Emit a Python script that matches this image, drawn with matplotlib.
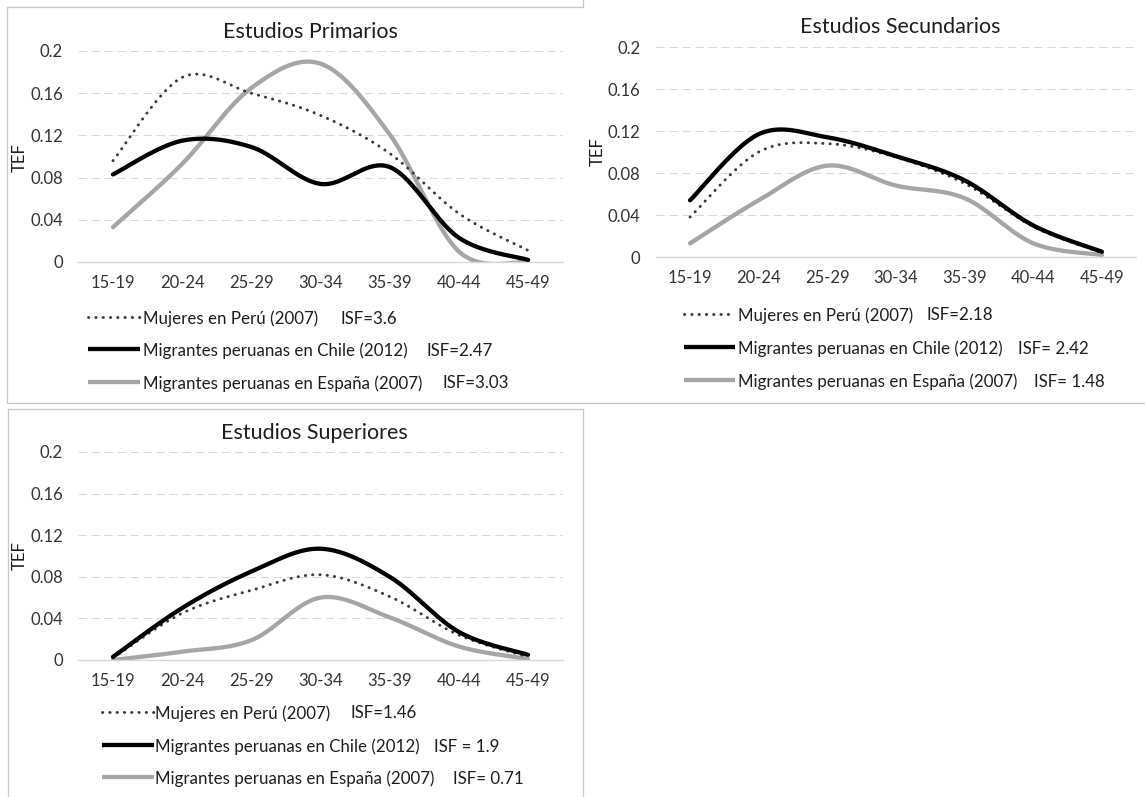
import numpy as np
import matplotlib
matplotlib.use("Agg")
import matplotlib.pyplot as plt
from matplotlib.lines import Line2D

plt.rcParams['font.family'] = ['Lato', 'DejaVu Sans']

# ---------------- data ----------------
age_groups = ["15-19", "20-24", "25-29", "30-34", "35-39", "40-44", "45-49"]
y_ticks = [0, 0.04, 0.08, 0.12, 0.16, 0.2]
y_tick_labels = ["0", "0.04", "0.08", "0.12", "0.16", "0.2"]

series_names = ["Mujeres en Perú (2007)",
                "Migrantes peruanas en Chile (2012)",
                "Migrantes peruanas en España (2007)"]

titles = ["Estudios Primarios", "Estudios Secundarios", "Estudios Superiores"]

prim_peru = [0.096, 0.175, 0.160, 0.139, 0.103, 0.046, 0.011]
prim_chile = [0.083, 0.115, 0.109, 0.074, 0.090, 0.023, 0.002]
prim_espana = [0.033, 0.093, 0.165, 0.188, 0.121, 0.010, 0.000]

sec_peru = [0.038, 0.100, 0.108, 0.095, 0.070, 0.029, 0.004]
sec_chile = [0.054, 0.117, 0.114, 0.096, 0.073, 0.030, 0.005]
sec_espana = [0.013, 0.054, 0.087, 0.068, 0.056, 0.013, 0.002]

sup_peru = [0.002, 0.045, 0.067, 0.082, 0.061, 0.024, 0.003]
sup_chile = [0.003, 0.050, 0.085, 0.107, 0.080, 0.027, 0.005]
sup_espana = [0.000, 0.008, 0.019, 0.060, 0.041, 0.013, 0.001]

isf_prim = ["ISF=3.6", "ISF=2.47", "ISF=3.03"]
isf_sec = ["ISF=2.18", "ISF= 2.42", "ISF= 1.48"]
isf_sup = ["ISF=1.46", "ISF = 1.9", "ISF= 0.71"]

# ---------------- layout (pixels) ----------------
W, H = 1145, 797
fig = plt.figure(figsize=(W / 100, H / 100), dpi=100)
fig.patch.set_facecolor("white")


def fx(x):
    return x / W


def fy(y):
    return 1 - y / H


def add_axes_px(left, right, top, bottom):
    return fig.add_axes([fx(left), fy(bottom), (right - left) / W, (bottom - top) / H])


def smooth(vals, n=40):
    pts = np.column_stack([np.arange(len(vals), dtype=float), np.asarray(vals, float)])
    out = []
    m = len(pts)
    for i in range(m - 1):
        p0 = pts[i - 1] if i > 0 else pts[i]
        p1 = pts[i]
        p2 = pts[i + 1]
        p3 = pts[i + 2] if i + 2 < m else pts[i + 1]
        c1 = p1 + (p2 - p0) / 6.0
        c2 = p2 - (p3 - p1) / 6.0
        t = np.linspace(0, 1, n)[:, None]
        seg = ((1 - t) ** 3) * p1 + 3 * ((1 - t) ** 2) * t * c1 + 3 * (1 - t) * t ** 2 * c2 + t ** 3 * p2
        if i > 0:
            seg = seg[1:]
        out.append(seg)
    out = np.vstack(out)
    return out[:, 0], out[:, 1]


TXT = "#1e1e1e"
TICK = "#333333"
GRID = "#d9d9d9"
BORDER = "#c8c8c8"
GRAY = "#a6a6a6"
DOT = "#3a3a3a"

FS_TICK = 12
FS_LEG = 12.2
FS_TITLE = 15.5

styles = [
    dict(color=DOT, lw=2.1, linestyle=(0, (0.1, 2.4)), dash_capstyle="round"),
    dict(color="black", lw=3.1, solid_capstyle="round"),
    dict(color=GRAY, lw=3.1, solid_capstyle="round"),
]
zorders = [3, 4, 2]

panels = [
    dict(box=(78.4, 562.6, 51, 262), data=[prim_peru, prim_chile, prim_espana], isf=isf_prim,
         title_xy=(310, 32), tef_xy=(20, 158),
         leg_rows=[317, 349, 382], leg_line=(88, 140), leg_text_x=143, isf_x=[340, 426, 442]),
    dict(box=(655.7, 1136.3, 47, 257), data=[sec_peru, sec_chile, sec_espana], isf=isf_sec,
         title_xy=(900, 27), tef_xy=(598, 152),
         leg_rows=[314, 347, 380], leg_line=(684, 735), leg_text_x=738, isf_x=[927, 1018, 1034]),
    dict(box=(78.4, 562.6, 452, 660), data=[sup_peru, sup_chile, sup_espana], isf=isf_sup,
         title_xy=(314, 433), tef_xy=(20, 556),
         leg_rows=[712, 745, 777], leg_line=(102, 154), leg_text_x=155, isf_x=[350, 434, 453]),
]

for p, title in zip(panels, titles):
    left, right, top, bottom = p["box"]
    ax = add_axes_px(left, right, top, bottom)
    ax.set_facecolor("none")
    for vals, st, z in zip(p["data"], styles, zorders):
        xs, ys = smooth(vals)
        ax.plot(xs, ys, zorder=z, **st)
    ax.set_xlim(-0.5, len(age_groups) - 0.5)
    ax.set_ylim(0, 0.2)
    ax.set_xticks(range(len(age_groups)))
    ax.set_xticklabels(age_groups, fontsize=FS_TICK, color=TICK)
    ax.set_yticks(y_ticks)
    ax.set_yticklabels(y_tick_labels, fontsize=FS_TICK, color=TICK)
    ax.tick_params(axis="both", length=0)
    ax.tick_params(axis="x", pad=9.5)
    ax.tick_params(axis="y", pad=11)
    for s in ["top", "right", "left"]:
        ax.spines[s].set_visible(False)
    ax.spines["bottom"].set_color(GRID)
    ax.spines["bottom"].set_linewidth(1.0)
    ax.set_axisbelow(True)
    ax.yaxis.grid(True, color=GRID, lw=0.75, linestyle=(0, (8, 4.5)))
    # title & axis label
    fig.text(fx(p["title_xy"][0]), fy(p["title_xy"][1]), title, ha="center", va="center",
             fontsize=FS_TITLE, color=TXT)
    fig.text(fx(p["tef_xy"][0]), fy(p["tef_xy"][1]), "TEF", ha="center", va="center",
             rotation=90, fontsize=FS_TICK, color=TXT)
    # legend
    x0, x1 = p["leg_line"]
    for name, yrow, st in zip(series_names, p["leg_rows"], styles):
        st2 = dict(st)
        st2.pop("solid_capstyle", None)
        fig.add_artist(Line2D([fx(x0), fx(x1)], [fy(yrow), fy(yrow)], transform=fig.transFigure,
                              solid_capstyle="butt", **st2))
        fig.text(fx(p["leg_text_x"]), fy(yrow), name, ha="left", va="center_baseline",
                 fontsize=FS_LEG, color=TXT)
    for isf, xi, yrow in zip(p["isf"], p["isf_x"], p["leg_rows"]):
        fig.text(fx(xi), fy(yrow), isf, ha="left", va="center_baseline", fontsize=FS_LEG, color=TXT)


# panel borders
def hline(y, x0, x1):
    fig.add_artist(Line2D([fx(x0), fx(x1)], [fy(y), fy(y)], transform=fig.transFigure,
                          color=BORDER, lw=0.9))


def vline(x, y0, y1):
    fig.add_artist(Line2D([fx(x), fx(x)], [fy(y0), fy(y1)], transform=fig.transFigure,
                          color=BORDER, lw=0.9))


hline(7, 7, 583)
vline(7, 7, 402)
vline(583, 0, 7)
hline(402.5, 7, 1145)
hline(408.5, 8, 583)
vline(8, 408.5, 797)
vline(583, 408.5, 797)

fig.savefig("out.png", dpi=100, facecolor="white")
